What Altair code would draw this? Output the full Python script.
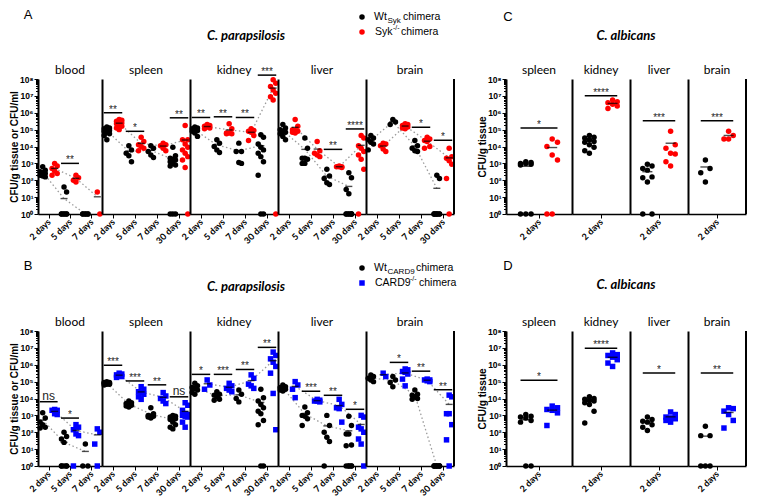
import json
import altair as alt
import pandas as pd

# ---------------------------------------------------------------------------
# Data: log10 CFU (0 = nothing detected, drawn at 10^0).
# One inner list per time point.
# ---------------------------------------------------------------------------
DAYS_PARA = ["2 days", "5 days", "7 days", "30 days"]
DAYS_BLOOD = ["2 days", "5 days", "7 days"]
DAYS_ALB = ["2 days"]
ORGANS_PARA = ["blood", "spleen", "kidney", "liver", "brain"]
ORGANS_ALB = ["spleen", "kidney", "liver", "brain"]

# Panel A: Wt(Syk) vs Syk-/- chimera, C. parapsilosis
A_BLOOD_WT = [[2.8, 2.6, 2.5, 2.45, 2.4, 2.3, 2.25, 2.2], [1.6, 1.3, 0, 0, 0, 0, 0, 0], [0, 0, 0, 0, 0, 0]]
A_BLOOD_KO = [[3.0, 2.85, 2.7, 2.55, 2.4, 2.3], [2.3, 2.15, 2.0, 1.9], [1.3, 0]]
A_SPLEEN_WT = [[5.15, 5.1, 5.05, 5.0, 4.95, 4.9, 4.85, 4.75, 4.65, 4.4], [4.05, 3.8, 3.6, 3.45, 3.1],
               [4.05, 3.9, 3.7, 3.5, 3.35], [3.95, 3.45, 3.3, 3.25, 3.2, 3.1, 3.0, 2.9, 2.85, 0, 0, 0]]
A_SPLEEN_KO = [[5.6, 5.55, 5.5, 5.45, 5.4, 5.35, 5.3, 5.2, 5.1, 5.0], [4.55, 4.3, 4.1, 4.0, 3.9, 3.75],
               [4.2, 4.1, 4.05, 3.9, 3.75], [5.25, 4.4, 4.4, 4.15, 3.95, 3.8, 3.6, 3.4, 3.2, 2.75, 0]]
A_KIDNEY_WT = [[5.15, 5.1, 5.05, 5.0, 4.95, 4.9, 4.8, 4.6], [4.4, 4.2, 4.0, 3.8, 3.65], [4.2, 3.7, 3.7, 3.05, 3.0],
               [4.7, 4.55, 4.15, 3.95, 3.8, 3.6, 3.4, 3.1, 2.3, 0, 0]]
A_KIDNEY_KO = [[5.3, 5.25, 5.2, 5.15, 5.1, 5.05], [5.35, 5.05, 4.8, 4.8, 4.75, 4.75], [5.05, 4.95, 4.9, 4.85, 4.65, 4.35],
               [7.95, 7.75, 7.55, 7.35, 7.15, 6.95, 6.75, 0]]
A_LIVER_WT = [[5.3, 5.1, 5.0, 4.9, 4.85, 4.75, 4.6, 4.4], [4.5, 3.9, 3.3, 3.3, 3.25, 3.0, 3.0], [2.65, 2.25, 2.1, 1.85, 1.75],
              [2.45, 2.15, 1.45, 1.2, 0, 0, 0, 0, 0, 0, 0]]
A_LIVER_KO = [[5.6, 5.2, 5.0, 4.95, 4.9, 4.85, 4.8], [4.3, 3.75, 3.6, 3.5, 3.4], [2.85, 2.8, 2.8, 2.8, 2.75],
              [4.65, 4.5, 4.05, 3.9, 3.7, 3.5, 3.25, 2.65, 0]]
A_BRAIN_WT = [[4.65, 4.5, 4.4, 4.25, 4.15, 3.8], [5.6, 5.45, 5.3], [4.35, 4.05, 3.9, 3.75, 3.7],
              [2.3, 2.1, 0, 0, 0, 0, 0, 0, 0, 0]]
A_BRAIN_KO = [[4.2, 4.15, 4.05, 3.85, 3.7], [5.35, 5.3, 5.25, 5.2, 5.15, 5.1, 5.05], [4.55, 4.45, 4.35, 4.3, 4.0, 3.9],
              [3.9, 3.4, 3.3, 3.15, 2.95, 2.1, 0]]
A_SIG_BLOOD = [("5 days", 3.0, "**")]
A_SIG_SPLEEN = [("2 days", 6.0, "**"), ("5 days", 4.9, "*"), ("30 days", 5.7, "**")]
A_SIG_KIDNEY = [("2 days", 5.72, "**"), ("5 days", 5.76, "**"), ("7 days", 5.72, "**"), ("30 days", 8.23, "***")]
A_SIG_LIVER = [("7 days", 3.83, "**"), ("30 days", 5.04, "****")]
A_SIG_BRAIN = [("7 days", 5.14, "*"), ("30 days", 4.37, "*")]

# Panel B: Wt(CARD9) vs CARD9-/- chimera, C. parapsilosis
B_BLOOD_WT = [[3.15, 2.85, 2.6, 2.45, 2.3, 2.25], [2.0, 1.75, 1.6, 1.4, 0, 0, 0, 0, 0], [1.3, 0, 0]]
B_BLOOD_KO = [[3.35, 3.3, 3.3, 3.1, 3.05], [2.45, 2.3, 2.15, 1.9, 1.8, 0], [2.2, 2.0, 1.3, 0]]
B_SPLEEN_WT = [[5.0, 4.95, 4.95, 4.9, 4.9, 4.9, 4.85, 4.85, 4.8], [3.85, 3.75, 3.7, 3.65, 3.6, 3.55, 3.5],
               [3.45, 3.1, 3.0, 2.95, 2.95, 2.9, 2.85], [3.0, 2.95, 2.9, 2.85, 2.8, 2.75, 2.6, 2.45, 2.3, 2.2]]
B_SPLEEN_KO = [[5.5, 5.45, 5.4, 5.35, 5.3, 5.25], [4.7, 4.55, 4.4, 4.35, 4.25, 4.1, 3.95], [4.35, 4.15, 4.0, 3.85, 3.7],
               [3.75, 3.6, 3.3, 3.1, 3.05, 3.0, 2.95, 2.9, 2.6, 2.3]]
B_KIDNEY_WT = [[4.9, 4.75, 4.65, 4.6, 4.5, 4.35, 4.25], [4.4, 4.25, 4.2, 4.1, 3.95, 3.9], [4.5, 4.25, 4.0, 3.8],
               [4.55, 4.05, 3.85, 3.65, 3.45, 3.25, 3.1, 2.7, 2.45, 0, 0]]
B_KIDNEY_KO = [[5.1, 4.8, 4.55], [4.9, 4.75, 4.6, 4.5, 4.4], [5.4, 5.2, 4.85, 4.75, 4.6],
               [6.75, 6.55, 6.35, 6.15, 5.9, 5.5, 4.3, 2.15]]
B_LIVER_WT = [[4.8, 4.7, 4.65, 4.6, 4.55, 4.5, 4.45], [3.5, 3.15, 3.0, 2.95, 2.8, 2.4], [3.0, 2.4, 2.0, 1.7, 1.45, 0],
              [2.95, 2.4, 1.9, 1.9, 1.25, 1.2, 0, 0, 0, 0, 0]]
B_LIVER_KO = [[5.0, 4.8, 4.55, 4.05], [3.95, 3.9, 3.85, 3.85, 3.8], [3.95, 3.65, 3.45, 3.4, 2.6],
              [3.0, 2.9, 2.3, 2.2, 2.0, 1.6, 1.3, 0]]
B_BRAIN_WT = [[5.4, 5.3, 5.2, 5.1, 5.0], [5.3, 5.1, 4.95, 4.7], [4.5, 4.25, 4.2, 4.1, 4.0, 3.95],
              [0, 0, 0, 0, 0, 0, 0, 0, 0]]
B_BRAIN_KO = [[5.5, 5.3], [5.75, 5.7, 5.6, 5.55, 5.45, 5.15, 4.75], [5.15, 5.1, 5.1, 5.05, 5.0],
              [4.2, 4.1, 3.1, 3.1, 2.45, 1.55, 0]]
B_SIG_BLOOD = [("2 days", 3.81, "ns"), ("5 days", 2.84, "*")]
B_SIG_SPLEEN = [("2 days", 5.97, "***"), ("5 days", 5.04, "***"), ("7 days", 4.81, "**"), ("30 days", 4.1, "ns")]
B_SIG_KIDNEY = [("2 days", 5.43, "*"), ("5 days", 5.43, "***"), ("7 days", 5.72, "**"), ("30 days", 7.03, "**")]
B_SIG_LIVER = [("5 days", 4.43, "***"), ("7 days", 4.19, "**"), ("30 days", 3.36, "*")]
B_SIG_BRAIN = [("5 days", 6.14, "*"), ("7 days", 5.62, "**"), ("30 days", 4.52, "**")]

# Panel C: Wt(Syk) vs Syk-/- chimera, C. albicans (2 days)
C_SPLEEN_WT = [[3.1, 3.05, 3.0, 3.0, 2.95, 2.9, 0, 0, 0]]
C_SPLEEN_KO = [[4.45, 4.25, 4.0, 3.5, 3.2, 0, 0]]
C_KIDNEY_WT = [[4.65, 4.55, 4.5, 4.4, 4.3, 4.25, 4.1, 3.95, 3.75, 3.6]]
C_KIDNEY_KO = [[6.75, 6.65, 6.6, 6.5, 6.4, 6.25]]
C_LIVER_WT = [[2.95, 2.85, 2.7, 2.6, 2.2, 2.15, 1.9, 0, 0]]
C_LIVER_KO = [[4.9, 4.1, 3.9, 3.6, 3.55, 3.1, 2.85]]
C_BRAIN_WT = [[3.2, 2.7, 2.45, 1.9]]
C_BRAIN_KO = [[4.9, 4.65, 4.45, 4.45]]
C_SIG = [("2 days", 5.1, "*"), ("2 days", 7.01, "****"), ("2 days", 5.53, "***"), ("2 days", 5.53, "***")]

# Panel D: Wt(CARD9) vs CARD9-/- chimera, C. albicans (2 days)
D_SPLEEN_WT = [[3.05, 2.95, 2.9, 2.85, 2.7, 2.6, 0, 0]]
D_SPLEEN_KO = [[3.55, 3.45, 3.35, 3.3, 3.15, 2.4]]
D_KIDNEY_WT = [[4.1, 4.0, 3.95, 3.9, 3.85, 3.75, 3.65, 3.25, 2.55]]
D_KIDNEY_KO = [[6.7, 6.6, 6.55, 6.45, 6.3, 6.1, 5.9]]
D_LIVER_WT = [[2.9, 2.75, 2.65, 2.6, 2.45, 2.3, 2.1]]
D_LIVER_KO = [[3.2, 3.05, 2.9, 2.85, 2.8, 2.7, 2.6]]
D_BRAIN_WT = [[2.35, 1.8, 1.8, 0, 0, 0]]
D_BRAIN_KO = [[3.45, 3.4, 3.25, 3.05, 2.7, 2.25]]
D_SIG = [("2 days", 5.08, "*"), ("2 days", 6.98, "****"), ("2 days", 5.51, "*"), ("2 days", 5.51, "**")]

A_WT = dict(zip(ORGANS_PARA, [A_BLOOD_WT, A_SPLEEN_WT, A_KIDNEY_WT, A_LIVER_WT, A_BRAIN_WT]))
A_KO = dict(zip(ORGANS_PARA, [A_BLOOD_KO, A_SPLEEN_KO, A_KIDNEY_KO, A_LIVER_KO, A_BRAIN_KO]))
A_SIG = dict(zip(ORGANS_PARA, [A_SIG_BLOOD, A_SIG_SPLEEN, A_SIG_KIDNEY, A_SIG_LIVER, A_SIG_BRAIN]))
B_WT = dict(zip(ORGANS_PARA, [B_BLOOD_WT, B_SPLEEN_WT, B_KIDNEY_WT, B_LIVER_WT, B_BRAIN_WT]))
B_KO = dict(zip(ORGANS_PARA, [B_BLOOD_KO, B_SPLEEN_KO, B_KIDNEY_KO, B_LIVER_KO, B_BRAIN_KO]))
B_SIG = dict(zip(ORGANS_PARA, [B_SIG_BLOOD, B_SIG_SPLEEN, B_SIG_KIDNEY, B_SIG_LIVER, B_SIG_BRAIN]))
C_WT = dict(zip(ORGANS_ALB, [C_SPLEEN_WT, C_KIDNEY_WT, C_LIVER_WT, C_BRAIN_WT]))
C_KO = dict(zip(ORGANS_ALB, [C_SPLEEN_KO, C_KIDNEY_KO, C_LIVER_KO, C_BRAIN_KO]))
D_WT = dict(zip(ORGANS_ALB, [D_SPLEEN_WT, D_KIDNEY_WT, D_LIVER_WT, D_BRAIN_WT]))
D_KO = dict(zip(ORGANS_ALB, [D_SPLEEN_KO, D_KIDNEY_KO, D_LIVER_KO, D_BRAIN_KO]))

# ---------------------------------------------------------------------------
# Layout / style
# ---------------------------------------------------------------------------
H = 135
ROW_GAP = 117
W_BLOOD, W_ORG, W_GAP = 64, 88, 52
W_ALB = [66, 58, 58, 58]
RED, BLUE = "#ff0000", "#0000ff"
SANS = "Liberation Sans"
CAL = "Lato"
ONE = pd.DataFrame({"k": [0]})

GENO = ["wt", "syk", "card9"]
GENO_COLORS = ["black", RED, BLUE]
GENO_SHAPES = ["circle", "circle", "square"]

SUPER = ["10⁰", "10¹", "10²", "10³", "10⁴", "10⁵", "10⁶", "10⁷", "10⁸"]
SUPER_EXPR = json.dumps(SUPER, ensure_ascii=False) + "[round(log(datum.value) / LN10)]"
MAJOR = [10 ** k for k in range(9)]
MINOR = [m * 10 ** k for k in range(8) for m in range(2, 10)]


def organ_frame(days, wt, ko, ko_key):
    rows = []
    for d, vals in zip(days, wt):
        rows += [{"day": d, "geno": "wt", "cfu": 10 ** v} for v in vals]
    for d, vals in zip(days, ko):
        rows += [{"day": d, "geno": ko_key, "cfu": 10 ** v} for v in vals]
    return pd.DataFrame(rows)


def label(text, x, y, size=10.5, weight="normal", style="normal", font=SANS, align="left",
          baseline="middle", color="black"):
    return alt.Chart(ONE).mark_text(text=text, fontSize=size, fontWeight=weight, fontStyle=style,
                                    font=font, align=align, baseline=baseline, color=color).encode(
        x=alt.value(x), y=alt.value(y))


def dot(x, y, color, shape="circle", size=30):
    return alt.Chart(ONE).mark_point(filled=True, opacity=1, shape=shape, size=size, color=color).encode(
        x=alt.value(x), y=alt.value(y))


def organ_chart(name, days, wt, ko, sig, width, ko_key, first, last,
                off, jit, half, tick, ytitle=None, extras=()):
    n = len(days)
    dj = json.dumps(days)
    xs = alt.Scale(domain=[-0.5, n - 0.5], nice=False, zero=False)
    xa = alt.Axis(values=list(range(n)), labelExpr=f"{dj}[datum.value]", title=None,
                  labelAngle=-45, labelAlign="right", labelBaseline="middle", labelOverlap=False,
                  labelBound=False, labelFlush=False,
                  labelFont=CAL, labelFontSize=9, labelFontWeight="bold", labelColor="black",
                  labelPadding=2, tickSize=4, tickColor="black", tickWidth=1,
                  domainColor="black", domainWidth=1.5, grid=False)
    ys = alt.Scale(type="log", domain=[1, 1e8], nice=False)
    if first:
        ya = alt.Axis(values=MAJOR, labelExpr=SUPER_EXPR, title=ytitle, titleFont=SANS,
                      titleFontSize=10, titleFontWeight="bold", titleColor="black", titlePadding=0,
                      labelFont=SANS, labelFontSize=8.5, labelFontWeight="bold", labelColor="black",
                      labelPadding=1, labelOverlap=False, tickSize=4, tickColor="black", tickWidth=1,
                      domainColor="black", domainWidth=2, grid=False)
    else:
        ya = alt.Axis(labels=False, ticks=False, title=None, domainColor="black", domainWidth=2, grid=False)

    def X(f):
        return alt.X(f, type="quantitative", scale=xs, axis=xa)

    def Y(f):
        return alt.Y(f, type="quantitative", scale=ys, axis=ya)

    color = alt.Color("geno:N", scale=alt.Scale(domain=GENO, range=GENO_COLORS), legend=None)
    shape = alt.Shape("geno:N", scale=alt.Scale(domain=GENO, range=GENO_SHAPES), legend=None)

    df = organ_frame(days, wt, ko, ko_key)
    base = alt.Chart(df).transform_calculate(idx=f"indexof({dj}, datum.day)")
    means = base.transform_aggregate(m="mean(cfu)", groupby=["day", "geno", "idx"]).transform_calculate(
        xm=f"datum.idx + (datum.geno == 'wt' ? {-off} : {off})")
    layers = []
    if n > 1:
        layers.append(means.mark_line(color="#9b9b9b", strokeDash=[1.5, 2.5], strokeWidth=1.3).encode(
            x=X("xm"), y=Y("m"), detail="geno:N", order="idx:Q"))
    pts = base.transform_window(rk="row_number()", groupby=["day", "geno"]).transform_calculate(
        xp=f"datum.idx + (datum.geno == 'wt' ? {-off} : {off}) + ((datum.rk % 3) - 1) * {jit}"
    ).mark_point(filled=True, opacity=1, size=30).encode(x=X("xp"), y=Y("cfu"), color=color, shape=shape)
    layers.append(pts)
    layers.append(means.mark_tick(orient="horizontal", color="black", size=tick, thickness=1.4).encode(
        x=X("xm"), y=Y("m")))
    if sig:
        sdf = pd.DataFrame({"day": [s[0] for s in sig], "lvl": [10 ** s[1] for s in sig],
                            "lab": [s[2] for s in sig]})
        sb = alt.Chart(sdf).transform_calculate(idx=f"indexof({dj}, datum.day)").transform_calculate(
            x1=f"datum.idx - {half}", x2=f"datum.idx + {half}")
        layers.append(sb.mark_rule(color="black", strokeWidth=1.5).encode(
            x=X("x1"), x2=alt.X2("x2:Q"), y=Y("lvl")))
        layers.append(sb.transform_filter("datum.lab != 'ns'").mark_text(
            font=SANS, fontSize=10, baseline="alphabetic", dy=0, opacity=0.99).encode(
            x=X("idx"), y=Y("lvl"), text="lab:N", color=alt.value("#222222")))
        layers.append(sb.transform_filter("datum.lab == 'ns'").mark_text(
            font=SANS, fontSize=12, baseline="alphabetic", dy=-2, opacity=0.99).encode(
            x=X("idx"), y=Y("lvl"), text="lab:N", color=alt.value("#222222")))
    if last:
        layers.append(alt.Chart(ONE).mark_rule(color="black", strokeWidth=2).encode(
            x=alt.value(width), y=alt.value(0), y2=alt.value(H)))
    # organ name above the panel
    layers.append(label(name, width / 2, -5, size=12, font=CAL, align="center", baseline="alphabetic"))
    layers += list(extras)
    main = alt.layer(*layers)
    if first:
        minor = alt.Chart(df).mark_point(opacity=0).encode(
            y=alt.Y("cfu:Q", scale=ys, axis=alt.Axis(values=MINOR, labels=False, tickSize=2.5, tickColor="black",
                                                     domain=False, title=None, grid=False, orient="left")))
        main = alt.layer(main, minor).resolve_axis(y="independent")
    return main.properties(width=width, height=H)


def spacer():
    return alt.Chart(ONE).mark_point(opacity=0).encode(x=alt.value(0), y=alt.value(0)).properties(
        width=W_GAP, height=H)


def legend(kind):
    if kind == "syk":
        return [dot(-4, -62, "black"), label("Wt", 8, -62), label("Syk", 21.5, -58.5, size=8),
                label("chimera", 37, -62),
                dot(-4, -47, RED), label("Syk", 9, -47), label("-/-", 27, -51, size=7), label("chimera", 35, -47)]
    return [dot(-4, -63, "black"), label("Wt", 8, -63), label("CARD9", 21.5, -59.5, size=8),
            label("chimera", 50, -63),
            dot(-4, -48, BLUE, "square", 30), label("CARD9", 9, -48), label("-/-", 44, -52, size=7),
            label("chimera", 53, -48)]


def para_row(letter, wt, ko, sig, ko_key, leg, ty):
    charts = []
    for i, org in enumerate(ORGANS_PARA):
        days = DAYS_BLOOD if org == "blood" else DAYS_PARA
        extras = []
        if i == 0:
            extras = [label(letter, -10, ty - 21, size=13, align="center"),
                      label("C. parapsilosis", (W_BLOOD + 4 * W_ORG) / 2, ty, size=13, weight="bold",
                            style="italic", font=CAL, align="center")]
        if i == 4:
            extras = legend(leg)
        charts.append(organ_chart(org, days, wt[org], ko[org], sig[org],
                                  W_BLOOD if org == "blood" else W_ORG, ko_key,
                                  first=(i == 0), last=(i == 4), off=0.28, jit=0.12, half=0.42, tick=7,
                                  ytitle="CFU/g tissue or CFU/ml", extras=extras))
    return charts


def alb_row(letter, wt, ko, sig, ko_key, ty):
    charts = []
    for i, org in enumerate(ORGANS_ALB):
        extras = []
        if i == 0:
            extras = [label(letter, 2, ty - 19, size=13, align="center"),
                      label("C. albicans", sum(W_ALB) / 2, ty, size=13, weight="bold",
                            style="italic", font=CAL, align="center")]
        charts.append(organ_chart(org, DAYS_ALB, wt[org], ko[org], [sig[i]], W_ALB[i], ko_key,
                                  first=(i == 0), last=(i == 3), off=0.2, jit=0.08, half=0.28, tick=10,
                                  ytitle="CFU/g tissue", extras=extras))
    return charts


row1 = para_row("A", A_WT, A_KO, A_SIG, "syk", "syk", -43) + [spacer()] + \
    alb_row("C", C_WT, C_KO, C_SIG, "syk", -43)
row2 = para_row("B", B_WT, B_KO, B_SIG, "card9", "card9", -44) + [spacer()] + \
    alb_row("D", D_WT, D_KO, D_SIG, "card9", -46)

chart = alt.concat(*row1, *row2, columns=len(row1), spacing={"row": ROW_GAP, "column": 0},
                   bounds="flush", padding={"left": 1, "top": 1, "right": 1, "bottom": 1}
                   ).configure_view(stroke=None).configure_axis(grid=False)

chart.save("out.html", embed_options={"renderer": "svg", "actions": False})
